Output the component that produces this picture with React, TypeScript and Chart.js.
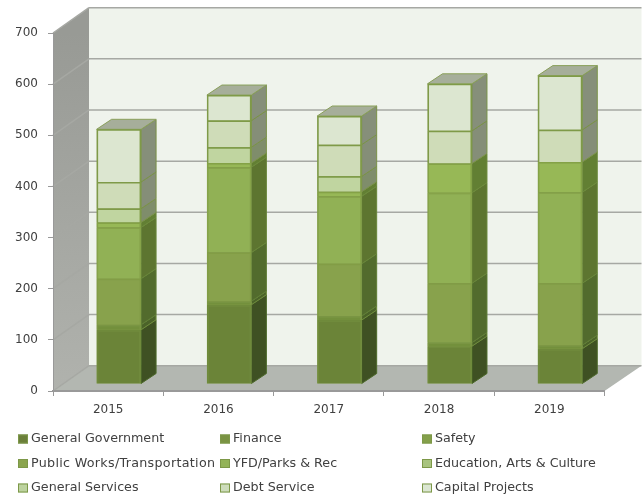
import React, { useEffect, useRef } from "react";
import { Chart, registerables } from "chart.js";

Chart.register(...registerables);

const years = ["2015", "2016", "2017", "2018", "2019"];
const generalGovernment = [106, 155, 125, 74, 69];
const finance = [10, 7, 8, 7, 7];
const safety = [0, 0, 0, 0, 0];
const publicWorks = [90, 95, 102, 116, 121];
const yfdParks = [100, 167, 132, 177, 178];
const education = [10, 8, 9, 57, 59];
const generalServices = [27, 31, 30, 0, 0];
const debtService = [52, 52, 62, 64, 63];
const capitalProjects = [103, 50, 56, 92, 106];
const yTicks = [0, 100, 200, 300, 400, 500, 600, 700];

const seriesNames = [
  "General Government", "Finance", "Safety",
  "Public Works/Transportation", "YFD/Parks & Rec", "Education, Arts & Culture",
  "General Services", "Debt Service", "Capital Projects",
];
const seriesValues = [
  generalGovernment, finance, safety, publicWorks, yfdParks,
  education, generalServices, debtService, capitalProjects,
];
const faceColors = ["#6b8438", "#73903c", "#7d9a42", "#88a24c", "#91b155", "#97b856", "#c0d5a0", "#cfdcb8", "#dce6d0"];
const sideColors = ["#3f5123", "#4b6329", "#4f682b", "#526b2d", "#5d7530", "#627f33", "#7f8d6b", "#858e78", "#868f7a"];
const legendColors = ["#6b7f3a", "#7a9343", "#84a04a", "#8ba54e", "#93b358", "#a9c47f", "#bdd39f", "#cddcbb", "#dbe6d2"];
const edgeColors = ["#6f8a3b", "#7a9543", "#7d9a42", "#829d45", "#86a349", "#84a246", "#7f9a48", "#7f9a48", "#7f9a48"];
const sideEdgeColors = ["#4d6a2a", "#6f8c3c", "#6f8c3c", "#5f7d35", "#688639", "#6d8b3c", "#7a9248", "#7a9248", "#7a9248"];
const legendLetterSpacing = ["0px", "0px", "0px", "0.3px", "0px", "0px", "0px", "0px", "0px"];

const FONT = "'DejaVu Sans'";
const backDx = 36;
const backDy = -25.3;
const barDx = 10.7;
const barDy = -7;
const depthX = 15;
const depthY = -10;

function poly(ctx: CanvasRenderingContext2D, pts: number[][]) {
  ctx.beginPath();
  pts.forEach((p, i) => (i ? ctx.lineTo(p[0], p[1]) : ctx.moveTo(p[0], p[1])));
  ctx.closePath();
}

const roomPlugin = {
  id: "room",
  beforeDraw(chart: any) {
    const { ctx, chartArea: a, scales } = chart;
    const y = scales.y;
    const L = a.left, R = a.right, T = a.top, B = a.bottom;
    ctx.save();
    // back wall
    ctx.fillStyle = "#eff3ec";
    ctx.fillRect(L + backDx, T + backDy, R - L + 1, B - T);
    // left wall
    const wall = ctx.createLinearGradient(0, T, 0, B);
    wall.addColorStop(0, "#989a95");
    wall.addColorStop(1, "#b0b2ad");
    ctx.fillStyle = wall;
    poly(ctx, [[L, T], [L + backDx, T + backDy], [L + backDx, B + backDy], [L, B]]);
    ctx.fill();
    // floor
    ctx.fillStyle = "#b3b7b1";
    poly(ctx, [[L, B], [L + backDx, B + backDy], [R + backDx + 1, B + backDy], [R, B]]);
    ctx.fill();
    // grid
    yTicks.forEach((v) => {
      const py = y.getPixelForValue(v);
      ctx.strokeStyle = "#a6a8a3";
      ctx.lineWidth = 1.5;
      ctx.beginPath();
      ctx.moveTo(L, py);
      ctx.lineTo(L + backDx, py + backDy);
      ctx.stroke();
      ctx.beginPath();
      ctx.moveTo(L + backDx, py + backDy);
      ctx.lineTo(R + backDx + 1, py + backDy);
      ctx.stroke();
    });
    ctx.restore();
  },
  beforeDatasetsDraw(chart: any) {
    const { ctx } = chart;
    ctx.save();
    ctx.translate(barDx, barDy);
    // depth faces of every bar, from the bars' own elements
    years.forEach((_, col) => {
      let topBar: any = null;
      let bottom = 0;
      chart.data.datasets.forEach((ds: any, si: number) => {
        const el = chart.getDatasetMeta(si).data[col];
        if (!ds.data[col]) return;
        if (!topBar) bottom = el.base;
        topBar = el;
        const right = el.x + el.width / 2;
        ctx.fillStyle = sideColors[si];
        poly(ctx, [
          [right, el.y],
          [right + depthX, el.y + depthY],
          [right + depthX, el.base + depthY],
          [right, el.base],
        ]);
        ctx.fill();
        ctx.strokeStyle = sideEdgeColors[si];
        ctx.lineWidth = 1;
        ctx.stroke();
      });
      if (topBar) {
        const l = topBar.x - topBar.width / 2;
        const r = topBar.x + topBar.width / 2;
        ctx.fillStyle = "#a6ae9a";
        poly(ctx, [
          [l, topBar.y],
          [l + depthX, topBar.y + depthY],
          [r + depthX, topBar.y + depthY],
          [r, topBar.y],
        ]);
        ctx.fill();
        ctx.strokeStyle = "#8aa05a";
        ctx.lineWidth = 1;
        ctx.stroke();
        // backing behind the stacked faces, so no seam shows between segments
        ctx.fillStyle = "#7f9a48";
        ctx.fillRect(l, topBar.y, r - l, bottom - topBar.y);
      }
    });
  },
  afterDatasetsDraw(chart: any) {
    chart.ctx.restore();
  },
  afterDraw(chart: any) {
    const { ctx } = chart;
    const cols = [18, 220, 422];
    const rows = [439, 463.5, 488];
    ctx.save();
    ctx.font = `12.7px ${FONT}`;
    ctx.textBaseline = "middle";
    chart.data.datasets.forEach((ds: any, i: number) => {
      const x = cols[i % 3];
      const y = rows[Math.floor(i / 3)];
      ctx.fillStyle = legendColors[i];
      ctx.fillRect(x, y - 4.5, 10, 9);
      ctx.strokeStyle = "#7d9848";
      ctx.lineWidth = 1;
      ctx.strokeRect(x + 0.5, y - 4, 9, 8);
      ctx.fillStyle = "#404040";
      ctx.letterSpacing = legendLetterSpacing[i];
      ctx.fillText(ds.label, x + 13, y);
    });
    ctx.restore();
  },
};

export default function App() {
  const ref = useRef<HTMLCanvasElement>(null);
  useEffect(() => {
    const chart = new Chart(ref.current!, {
      type: "bar",
      data: {
        labels: years,
        datasets: seriesNames.map((label, i) => ({
          label,
          data: seriesValues[i],
          backgroundColor: faceColors[i],
          borderColor: edgeColors[i],
          borderWidth: seriesValues[i].map((v) => (v ? 1.5 : 0)),
          categoryPercentage: 0.403,
          barPercentage: 1,
          clip: false,
        })),
      },
      options: {
        responsive: false,
        animation: false,
        layout: { padding: { left: 0, right: 39.5, top: 33, bottom: 70 } },
        plugins: { legend: { display: false }, tooltip: { enabled: false } },
        scales: {
          x: {
            stacked: true,
            afterFit: (s: any) => { s.height = 37; },
            grid: { drawOnChartArea: false, tickLength: 5, tickColor: "#999999", offset: true },
            border: { color: "#999999", width: 2 },
            ticks: { font: { family: FONT, size: 12 }, color: "#404040", padding: 7 },
          },
          y: {
            stacked: true,
            min: 0,
            max: 700,
            afterFit: (s: any) => { s.width = 53; },
            grid: { drawOnChartArea: false, tickLength: 5, tickColor: "#999999" },
            border: { color: "#999999", width: 1 },
            ticks: { stepSize: 100, font: { family: FONT, size: 12 }, color: "#404040", padding: 10 },
          },
        },
      },
      plugins: [roomPlugin],
    } as any);
    return () => chart.destroy();
  }, []);
  return (
    <div style={{ position: "absolute", left: 0, top: 0, width: 644, height: 498 }}>
      <canvas ref={ref} width={644} height={498} style={{ display: "block", filter: "blur(0.35px)" }} />
    </div>
  );
}
